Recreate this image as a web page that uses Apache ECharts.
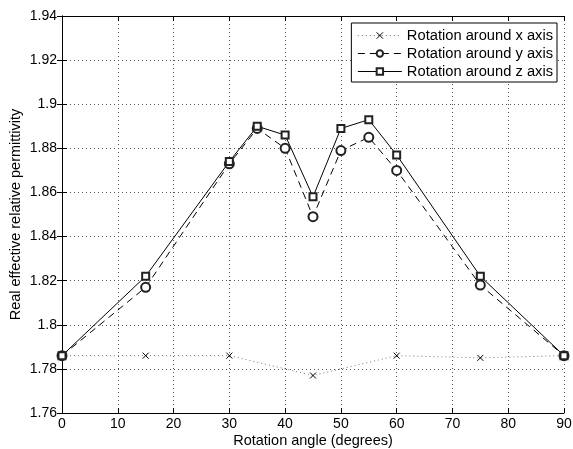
<!DOCTYPE html>
<html><head><meta charset="utf-8">
<script src="https://cdn.jsdelivr.net/npm/echarts@6/dist/echarts.min.js"></script>
<style>html,body{margin:0;padding:0;background:#fff}#c{width:573px;height:449px}</style>
</head><body><div id="c"></div>
<script>
const angles = [0, 15, 30, 35, 40, 45, 50, 55, 60, 75, 90];
const anglesX = [0, 15, 30, 45, 60, 75, 90];
const rotX = [1.786, 1.786, 1.786, 1.777, 1.786, 1.785, 1.786];
const rotY = [1.786, 1.817, 1.873, 1.889, 1.880, 1.849, 1.879, 1.885, 1.870, 1.818, 1.786];
const rotZ = [1.786, 1.822, 1.874, 1.890, 1.886, 1.858, 1.889, 1.893, 1.877, 1.822, 1.786];
const names = ['Rotation around x axis', 'Rotation around y axis', 'Rotation around z axis'];

const font = 'Liberation Sans, Arial, Helvetica, sans-serif';
const chart = echarts.init(document.getElementById('c'), null, {renderer: 'canvas'});
const zip = (xs, ys) => xs.map((x, i) => [x, ys[i]]);
const gridLine = {show: true, lineStyle: {color: '#555', type: [1, 3], width: 1}};
chart.setOption({
  animation: false,
  backgroundColor: '#fff',
  textStyle: {fontFamily: font},
  grid: {left: 62, right: 9, top: 16, bottom: 36, containLabel: false, outerBoundsMode: 'none'},
  legend: {
    right: 16, top: 23, orient: 'vertical',
    backgroundColor: '#fff', borderColor: '#000', borderWidth: 1,
    padding: [5, 4, 3, 6], itemGap: 3, itemWidth: 44, itemHeight: 8,
    textStyle: {fontFamily: font, fontSize: 14.7, color: '#000'},
    lineStyle: {width: 1},
    itemStyle: {borderWidth: 1},
    data: names
  },
  xAxis: [{
    type: 'value', min: 0, max: 90, interval: 10, position: 'bottom',
    name: 'Rotation angle (degrees)', nameLocation: 'middle', nameGap: 20,
    nameMoveOverlap: false,
    nameTextStyle: {fontFamily: font, fontSize: 14.5, color: '#000'},
    axisLine: {lineStyle: {color: '#000', width: 1}},
    axisTick: {inside: true, length: 5, lineStyle: {color: '#000'}},
    axisLabel: {fontFamily: font, fontSize: 14, color: '#000', margin: 4},
    splitLine: gridLine
  }, {
    type: 'value', min: 0, max: 90, interval: 10, position: 'top',
    axisLine: {show: true, lineStyle: {color: '#000', width: 1}},
    axisTick: {inside: true, length: 5, lineStyle: {color: '#000'}},
    axisLabel: {show: false}, splitLine: {show: false}
  }],
  yAxis: [{
    type: 'value', min: 1.76, max: 1.94, interval: 0.02, position: 'left',
    name: 'Real effective relative permittivity', nameLocation: 'middle', nameGap: 39,
    nameMoveOverlap: false,
    nameTextStyle: {fontFamily: font, fontSize: 14.5, color: '#000'},
    axisLine: {show: true, lineStyle: {color: '#000', width: 1}},
    axisTick: {show: true, inside: true, length: 5, lineStyle: {color: '#000'}},
    axisLabel: {fontFamily: font, fontSize: 14, color: '#000', margin: 5,
      formatter: v => String(parseFloat(v.toFixed(2)))},
    splitLine: gridLine
  }, {
    type: 'value', min: 1.76, max: 1.94, interval: 0.02, position: 'right',
    axisLine: {show: true, lineStyle: {color: '#000', width: 1}},
    axisTick: {show: true, inside: true, length: 5, lineStyle: {color: '#000'}},
    axisLabel: {show: false}, splitLine: {show: false}
  }],
  series: [{
    name: names[0], type: 'line', data: zip(anglesX, rotX),
    symbol: 'path://M0,0L10,10M10,0L0,10', symbolSize: 6,
    itemStyle: {color: 'none', borderColor: '#000', borderWidth: 1},
    lineStyle: {color: '#777', width: 1, type: [1, 3]}
  }, {
    name: names[1], type: 'line', data: zip(angles, rotY),
    symbol: 'emptyCircle', symbolSize: 9,
    itemStyle: {color: '#222', borderColor: '#222', borderWidth: 1},
    lineStyle: {color: '#000', width: 1, type: [7, 5]}
  }, {
    name: names[2], type: 'line', data: zip(angles, rotZ),
    symbol: 'emptyRect', symbolSize: 7,
    itemStyle: {color: '#222', borderColor: '#222', borderWidth: 1},
    lineStyle: {color: '#000', width: 1}
  }]
});
</script></body></html>
